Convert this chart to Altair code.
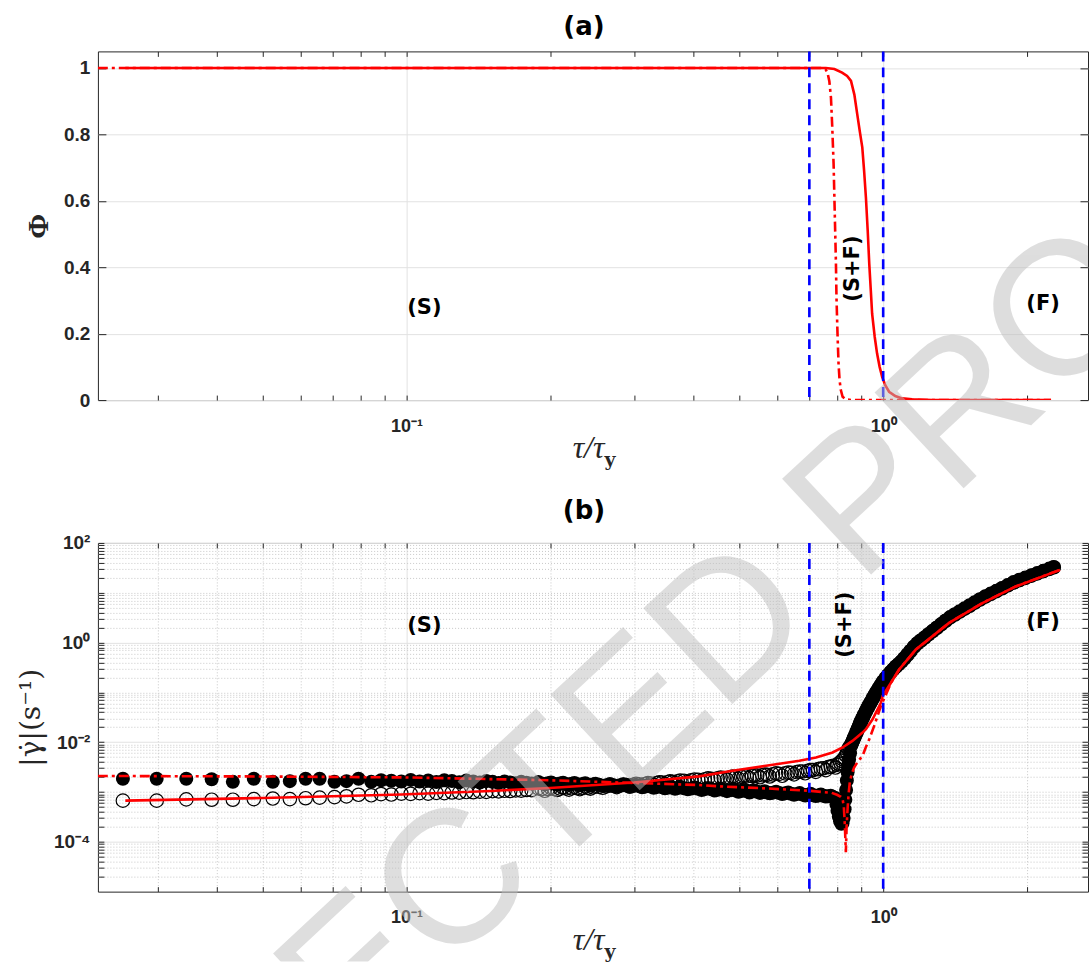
import altair as alt
import pandas as pd

# ---------------- panel (a): solid fraction Phi vs tau/tau_y ----------------
phi_tau_solid = [0.0257, 0.1, 0.3, 0.6, 0.72, 0.758, 0.79, 0.82, 0.84, 0.856, 0.87, 0.882, 0.893,
                 0.904, 0.912, 0.920, 0.928, 0.935, 0.942, 0.948, 0.96, 0.971, 0.983, 0.995,
                 1.01, 1.029, 1.06, 1.096, 1.15, 1.267, 1.6, 2.0, 2.25]
phi_solid = [1, 1, 1, 1, 1, 1.0, 0.997, 0.986, 0.976, 0.961, 0.92, 0.862, 0.81,
             0.761, 0.69, 0.61, 0.51, 0.41, 0.33, 0.26, 0.19, 0.14, 0.1, 0.07,
             0.045, 0.025, 0.012, 0.005, 0.002, 0, 0, 0, 0]

phi_tau_dashdot = [0.0225, 0.1, 0.3, 0.6, 0.72, 0.746, 0.757, 0.764, 0.771, 0.777, 0.782, 0.787, 0.790,
                   0.793, 0.796, 0.798, 0.802, 0.806, 0.810, 0.815, 0.822, 0.835, 0.861, 0.95, 1.2, 2.25]
phi_dashdot = [1, 1, 1, 1, 1, 1.0, 0.996, 0.986, 0.96, 0.911, 0.82, 0.711, 0.61,
               0.51, 0.41, 0.31, 0.2, 0.11, 0.06, 0.03, 0.01, 0.002, 0, 0, 0, 0]

# ---------------- panel (b): |shear rate| vs tau/tau_y ----------------
tau_pre = [0.0254, 0.0299, 0.0345, 0.0390, 0.0432, 0.0478, 0.0524, 0.0569, 0.0614, 0.0657, 0.0706,
           0.0748, 0.0793, 0.0843, 0.0884, 0.0929, 0.0975,
           0.102, 0.1065, 0.111, 0.1155, 0.12, 0.1245, 0.129, 0.1335, 0.138, 0.1425, 0.147, 0.1515,
           0.156, 0.1605, 0.165, 0.1695, 0.174, 0.1785, 0.183,
           0.189, 0.195, 0.201, 0.207, 0.213, 0.219, 0.225, 0.231, 0.237, 0.243, 0.249,
           0.258, 0.267, 0.276, 0.285, 0.294, 0.303, 0.312, 0.321, 0.330, 0.339, 0.348, 0.357, 0.366, 0.375,
           0.389, 0.402, 0.416, 0.429, 0.443, 0.456, 0.470, 0.483, 0.497, 0.510, 0.524, 0.537, 0.551,
           0.564, 0.578,
           0.596, 0.614, 0.632, 0.650, 0.668, 0.686, 0.704, 0.722, 0.740, 0.758, 0.776, 0.794]

rate_filled_pre = [1.85e-3, 1.85e-3, 1.85e-3, 1.80e-3, 1.60e-3, 1.85e-3, 1.60e-3, 1.65e-3, 1.85e-3, 1.85e-3,
                   1.60e-3, 1.65e-3, 1.85e-3, 1.60e-3, 1.72e-3, 1.68e-3, 1.62e-3,
                   1.75e-3, 1.62e-3, 1.70e-3, 1.58e-3, 1.72e-3, 1.66e-3, 1.57e-3, 1.70e-3, 1.62e-3, 1.55e-3,
                   1.66e-3, 1.60e-3, 1.52e-3, 1.63e-3, 1.56e-3, 1.50e-3, 1.60e-3, 1.54e-3, 1.48e-3,
                   1.58e-3, 1.42e-3, 1.56e-3, 1.40e-3, 1.54e-3, 1.38e-3, 1.52e-3, 1.36e-3, 1.50e-3, 1.35e-3,
                   1.47e-3,
                   1.32e-3, 1.45e-3, 1.29e-3, 1.42e-3, 1.27e-3, 1.39e-3, 1.24e-3, 1.36e-3, 1.22e-3, 1.33e-3,
                   1.19e-3, 1.30e-3, 1.16e-3, 1.27e-3,
                   1.13e-3, 1.23e-3, 1.10e-3, 1.20e-3, 1.07e-3, 1.17e-3, 1.04e-3, 1.13e-3, 1.01e-3, 1.10e-3,
                   0.98e-3, 1.07e-3, 0.96e-3, 1.04e-3, 0.94e-3,
                   1.01e-3, 0.91e-3, 0.98e-3, 0.88e-3, 0.95e-3, 0.85e-3, 0.92e-3, 0.83e-3, 0.89e-3, 0.81e-3,
                   0.84e-3, 0.76e-3]

rate_open_pre = [6.7e-4, 6.7e-4, 7.1e-4, 7.0e-4, 7.0e-4, 7.2e-4, 7.4e-4, 7.2e-4, 7.5e-4, 7.7e-4,
                 7.9e-4, 8.2e-4, 8.8e-4, 8.6e-4, 9.1e-4, 8.9e-4, 9.3e-4,
                 9.2e-4, 9.5e-4, 9.3e-4, 9.6e-4, 9.5e-4, 9.8e-4, 9.7e-4, 1.0e-3, 0.99e-3, 1.02e-3,
                 1.01e-3, 1.04e-3, 1.03e-3, 1.06e-3, 1.05e-3, 1.08e-3, 1.07e-3, 1.10e-3, 1.09e-3,
                 1.18e-3, 1.06e-3, 1.20e-3, 1.10e-3, 1.23e-3, 1.12e-3, 1.26e-3, 1.14e-3, 1.28e-3, 1.17e-3,
                 1.30e-3,
                 1.22e-3, 1.36e-3, 1.25e-3, 1.41e-3, 1.29e-3, 1.46e-3, 1.34e-3, 1.51e-3, 1.39e-3, 1.57e-3,
                 1.44e-3, 1.63e-3, 1.50e-3, 1.69e-3,
                 1.56e-3, 1.78e-3, 1.63e-3, 1.87e-3, 1.71e-3, 1.95e-3, 1.78e-3, 2.03e-3, 1.85e-3, 2.10e-3,
                 1.91e-3, 2.17e-3, 1.98e-3, 2.24e-3, 2.05e-3,
                 2.36e-3, 2.12e-3, 2.45e-3, 2.26e-3, 2.58e-3, 2.38e-3, 2.74e-3, 2.53e-3, 2.95e-3, 2.75e-3,
                 3.22e-3, 3.10e-3]

# readings taken between the ones above, where the markers crowd into a band
tau_mid = [0.192, 0.198, 0.204, 0.210, 0.216, 0.222, 0.228, 0.234, 0.240, 0.246,
           0.2535, 0.2625, 0.2715, 0.2805, 0.2895, 0.2985, 0.3075, 0.3165, 0.3255, 0.3345, 0.3435,
           0.3525, 0.3615, 0.3705,
           0.382, 0.3955, 0.409, 0.4225, 0.436, 0.4495, 0.463, 0.4765, 0.490, 0.5035, 0.517, 0.5305,
           0.544, 0.5575, 0.571,
           0.587, 0.605, 0.623, 0.641, 0.659, 0.677, 0.695, 0.713, 0.731, 0.749, 0.767, 0.785]
rate_filled_mid = [1.49e-3, 1.50e-3, 1.47e-3, 1.48e-3, 1.45e-3, 1.46e-3, 1.43e-3, 1.44e-3, 1.41e-3, 1.42e-3,
                   1.40e-3, 1.37e-3, 1.37e-3, 1.34e-3, 1.34e-3, 1.31e-3, 1.31e-3, 1.28e-3, 1.28e-3, 1.25e-3,
                   1.25e-3, 1.22e-3, 1.22e-3, 1.20e-3,
                   1.19e-3, 1.17e-3, 1.16e-3, 1.14e-3, 1.13e-3, 1.11e-3, 1.10e-3, 1.08e-3, 1.07e-3, 1.05e-3,
                   1.04e-3, 1.02e-3, 1.01e-3, 0.99e-3, 0.98e-3,
                   0.97e-3, 0.95e-3, 0.94e-3, 0.92e-3, 0.91e-3, 0.89e-3, 0.88e-3, 0.86e-3, 0.85e-3, 0.84e-3,
                   0.82e-3, 0.79e-3]
rate_open_mid = [1.14e-3, 1.15e-3, 1.16e-3, 1.17e-3, 1.18e-3, 1.19e-3, 1.20e-3, 1.21e-3, 1.22e-3, 1.24e-3,
                 1.27e-3, 1.30e-3, 1.33e-3, 1.35e-3, 1.38e-3, 1.40e-3, 1.43e-3, 1.45e-3, 1.48e-3, 1.51e-3,
                 1.54e-3, 1.57e-3, 1.60e-3, 1.63e-3,
                 1.68e-3, 1.72e-3, 1.76e-3, 1.80e-3, 1.84e-3, 1.88e-3, 1.91e-3, 1.95e-3, 1.98e-3, 2.02e-3,
                 2.06e-3, 2.10e-3, 2.14e-3, 2.17e-3, 2.21e-3,
                 2.25e-3, 2.31e-3, 2.37e-3, 2.43e-3, 2.50e-3, 2.58e-3, 2.66e-3, 2.76e-3, 2.87e-3, 3.00e-3,
                 3.15e-3, 3.35e-3]

tau_filled_tr = [0.798, 0.802, 0.807, 0.812, 0.817, 0.822, 0.826, 0.830, 0.833, 0.836, 0.839, 0.842,
                 0.845, 0.848, 0.852]
rate_filled_tr = [5.6e-4, 4.2e-4, 3.2e-4, 2.6e-4, 2.3e-4, 2.4e-4, 3.0e-4, 4.5e-4, 7.0e-4, 1.1e-3, 1.7e-3,
                  2.5e-3, 3.4e-3, 4.5e-3, 6.0e-3]

tau_open_tr = [0.800, 0.806, 0.812, 0.818, 0.824, 0.830, 0.835, 0.840, 0.845, 0.850]
rate_open_tr = [3.5e-3, 3.7e-3, 3.9e-3, 4.2e-3, 4.5e-3, 4.9e-3, 5.4e-3, 6.2e-3, 7.2e-3, 8.0e-3]

tau_flow = [0.856, 0.860, 0.865, 0.870, 0.875, 0.880, 0.885, 0.890, 0.895, 0.900,
            0.906, 0.913, 0.920, 0.928, 0.936, 0.944, 0.952, 0.961, 0.970, 0.980,
            0.990, 1.000, 1.012, 1.024, 1.037, 1.050, 1.064, 1.078, 1.093, 1.108,
            1.124, 1.141, 1.160, 1.180, 1.200, 1.222, 1.245, 1.270, 1.296, 1.323,
            1.352, 1.382, 1.414, 1.447, 1.482, 1.518, 1.556, 1.596, 1.638, 1.682,
            1.728, 1.776, 1.826, 1.878, 1.932, 1.988, 2.046, 2.106, 2.168, 2.232, 2.280]
rate_flow = [0.0087, 0.0097, 0.011, 0.0125, 0.0142, 0.0162, 0.0185, 0.021, 0.024, 0.027,
             0.031, 0.036, 0.042, 0.049, 0.057, 0.066, 0.077, 0.09, 0.105, 0.123,
             0.143, 0.165, 0.192, 0.222, 0.255, 0.29, 0.33, 0.37, 0.42, 0.485,
             0.571, 0.678, 0.818, 0.966, 1.10, 1.26, 1.46, 1.70, 1.98, 2.32,
             2.74, 3.21, 3.66, 4.18, 4.79, 5.50, 6.34, 7.31, 8.37, 9.5,
             10.8, 12.3, 14.1, 16.1, 18.0, 19.9, 22.1, 24.5, 27.2, 30.1, 32.5]

fit_tau_solid = [0.0257, 0.05, 0.0975, 0.15, 0.2, 0.3, 0.411, 0.483, 0.568, 0.667, 0.723, 0.783, 0.822,
                 0.862, 0.905, 0.92, 0.95, 0.989, 0.997, 1.04, 1.08, 1.171, 1.375, 1.615, 1.897, 2.35]
fit_rate_solid = [6.7e-4, 7.6e-4, 8.9e-4, 1.05e-3, 1.2e-3, 1.55e-3, 2.06e-3, 2.67e-3, 3.36e-3, 4.23e-3,
                  4.94e-3, 6.22e-3, 7.83e-3, 1.06e-2, 1.56e-2, 1.82e-2, 2.88e-2, 6.2e-2, 8.44e-2, 0.16,
                  0.288, 0.724, 2.48, 6.22, 13.4, 28.8]

fit_tau_dashdot = [0.0225, 0.05, 0.1, 0.2, 0.3, 0.411, 0.453, 0.568, 0.70, 0.78, 0.80, 0.815, 0.822,
                   0.827, 0.831, 0.835, 0.838, 0.842, 0.846, 0.851, 0.859, 0.869, 0.885, 0.905, 0.92,
                   0.935, 0.957, 0.989, 1.04, 1.08, 1.171, 1.375, 1.615, 1.897, 2.35]
fit_rate_dashdot = [2.1e-3, 2.05e-3, 1.96e-3, 1.72e-3, 1.52e-3, 1.38e-3, 1.3e-3, 1.18e-3, 1.06e-3, 9.6e-4,
                    8.8e-4, 8.0e-4, 7.2e-4, 5.0e-4, 2.1e-4, 6.2e-5, 2.0e-4, 4.6e-4, 9.0e-4, 1.56e-3,
                    2.3e-3, 3.1e-3, 4.1e-3, 5.3e-3, 8.0e-3, 1.15e-2, 2.1e-2, 5.3e-2, 0.16, 0.288, 0.724,
                    2.48, 6.22, 13.4, 28.8]

# regime boundaries (blue dashed) and region labels
boundaries = [0.7, 1.0]
region_labels = ["(S)", "(F)"]
region_tau = [0.109, 2.165]
region_phi = [0.276, 0.288]
region_rate = [2.19, 2.57]
mixed_label = "(S+F)"
mixed_tau_a, mixed_phi = 0.865, 0.396
mixed_tau_b, mixed_rate = 0.830, 2.29

watermark_text = "UNCORRECTED PROOF"

# ---------------- styling helpers ----------------
W, H = 991, 349
GAP = 143                      # distance between the two plot areas
FOOT = 70                      # strip below panel (b)
AX = "#262626"
GRID = "#e2e2e2"
MINOR = "#c8c8c8"
RED = "#ff0000"
BLUE = "#0000ff"
TICK_FONT = "Liberation Sans"
LABEL_FONT = "DejaVu Sans"
STAMP_X, STAMP_Y = 411, 784    # stamp centre, relative to the top-left of panel (a)

XS = alt.Scale(type="log", domain=[0.02251, 2.69], nice=False)
YS_A = alt.Scale(domain=[0, 1.05], nice=False, zero=False)
YS_B = alt.Scale(type="log", domain=[1e-5, 100], nice=False)

x_minor = [0.03, 0.04, 0.05, 0.06, 0.07, 0.08, 0.09, 0.2, 0.3, 0.4, 0.5, 0.6, 0.7, 0.8, 0.9, 2.0]
x_major = [0.1, 1.0]
x_all = x_major + x_minor
x_expr = "datum.value < 0.5 ? '10⁻¹' : '10⁰'"

ya_vals = [0, 0.2, 0.4, 0.6, 0.8, 1.0]
yb_major = [1e-4, 1e-2, 1, 100]
yb_minor = [m * 10.0 ** k for k in range(-5, 2) for m in range(1, 10)
            if not (m == 1 and k in (-5, -4, -2, 0))]
yb_all = yb_major + yb_minor
yb_expr = ("datum.value > 50 ? '10²' : datum.value > 0.5 ? '10⁰' : "
           "datum.value > 0.005 ? '10⁻²' : '10⁻⁴'")


def x_label_axis():
    return alt.Axis(orient="bottom", values=x_major, labelExpr=x_expr, ticks=False, tickSize=0,
                    domain=False, grid=True, gridColor=GRID, gridWidth=1, labelFont=TICK_FONT,
                    labelFontSize=18, labelFontWeight="bold", labelColor=AX, labelPadding=17,
                    labelFlush=False, labelOverlap=False, title=None)


def tick_axis(orient, values, size):
    return alt.Axis(orient=orient, values=values, labels=False, ticks=True, tickSize=size,
                    tickColor=AX, tickWidth=1, domain=False, grid=False, offset=-size, title=None)


def minor_grid_axis(orient, values):
    return alt.Axis(orient=orient, values=values, labels=False, ticks=False, domain=False,
                    grid=True, gridColor=MINOR, gridDash=[1, 2], gridWidth=1, title=None)


def x_title_layers():
    main = alt.Chart(pd.DataFrame({"t": ["τ/τ"]})).mark_text(
        align="right", baseline="alphabetic", font="Liberation Serif", fontStyle="italic",
        fontSize=32, color=AX).encode(x=alt.value(507), y=alt.value(H + 58), text="t:N")
    sub = alt.Chart(pd.DataFrame({"t": ["y"]})).mark_text(
        align="left", baseline="alphabetic", font="DejaVu Serif", fontWeight="bold",
        fontSize=19, color=AX).encode(x=alt.value(507), y=alt.value(H + 66), text="t:N")
    return [main, sub]


def stamp_layer(dy):
    # translucent proof stamp running diagonally across the page, clipped to its strip
    return alt.Chart(pd.DataFrame({"t": [watermark_text]})).mark_text(
        font="Liberation Sans", fontSize=190, color="#bdbdbd", opacity=0.5,
        angle=317, align="center", baseline="middle", clip=True).encode(
        x=alt.value(STAMP_X), y=alt.value(STAMP_Y - dy), text="t:N")


def stamp_strip(dy, height):
    return stamp_layer(dy).properties(width=W, height=height,
                                      view=alt.ViewBackground(stroke="transparent"))


def panel_title(text):
    return alt.TitleParams(text=text, font=LABEL_FONT, fontSize=26, fontWeight="bold", color="black",
                           anchor="middle", dx=-9, offset=10, frame="group")


# ---------------- panel (a) ----------------
a_solid = pd.DataFrame({"tau": phi_tau_solid, "phi": phi_solid})
a_dash = pd.DataFrame({"tau": phi_tau_dashdot, "phi": phi_dashdot})
bounds_df = pd.DataFrame({"tau": boundaries})
a_text = pd.DataFrame({"tau": region_tau, "phi": region_phi, "label": region_labels})
a_mixed = pd.DataFrame({"tau": [mixed_tau_a], "phi": [mixed_phi], "label": [mixed_label]})

ya_label_axis = alt.Axis(orient="left", values=ya_vals, format="~g", ticks=False, tickSize=0, domain=False,
                         grid=True, gridColor=GRID, gridWidth=1, labelFont=TICK_FONT, labelFontSize=19,
                         labelFontWeight="bold", labelColor=AX, labelPadding=8, title="Φ",
                         titleFont="Liberation Serif", titleFontSize=30, titleFontWeight="bold",
                         titleColor=AX, titleAngle=270, titleX=-50, titleY=H / 2,
                         titleBaseline="alphabetic", titleAlign="center")

a_l1 = alt.Chart(a_solid).mark_line(color=RED, strokeWidth=2.6, clip=True).encode(
    x=alt.X("tau:Q", scale=XS, axis=x_label_axis()),
    y=alt.Y("phi:Q", scale=YS_A, axis=ya_label_axis))
a_l2 = alt.Chart(a_dash).mark_line(color=RED, strokeWidth=2.6, strokeDash=[10, 4, 3, 4], clip=True).encode(
    x=alt.X("tau:Q", scale=XS, axis=tick_axis("bottom", x_all, 5)),
    y=alt.Y("phi:Q", scale=YS_A, axis=tick_axis("left", ya_vals, 8)))
a_l3 = alt.Chart(bounds_df).mark_rule(color=BLUE, strokeWidth=2.6, strokeDash=[10, 6]).encode(
    x=alt.X("tau:Q", scale=XS, axis=tick_axis("top", x_all, 5)))
a_l4 = alt.Chart(a_text).mark_text(font=LABEL_FONT, fontSize=21, fontWeight="bold", color="black").encode(
    x=alt.X("tau:Q", scale=XS, axis=None),
    y=alt.Y("phi:Q", scale=YS_A, axis=tick_axis("right", ya_vals, 8)),
    text="label:N")
a_l5 = alt.Chart(a_mixed).mark_text(font=LABEL_FONT, fontSize=21, fontWeight="bold", color="black",
                                    angle=270).encode(
    x=alt.X("tau:Q", scale=XS, axis=None),
    y=alt.Y("phi:Q", scale=YS_A, axis=None),
    text="label:N")

panel_a = alt.layer(a_l1, a_l2, a_l3, a_l4, a_l5, *x_title_layers(), stamp_layer(0)).resolve_axis(
    x="independent", y="independent").properties(width=W, height=H, title=panel_title("(a)"))

# ---------------- panel (b) ----------------
b_filled = pd.DataFrame({"tau": tau_pre + tau_mid + tau_filled_tr + tau_flow,
                         "rate": rate_filled_pre + rate_filled_mid + rate_filled_tr + rate_flow})
b_open = pd.DataFrame({"tau": tau_pre + tau_mid + tau_open_tr + tau_flow,
                       "rate": rate_open_pre + rate_open_mid + rate_open_tr + rate_flow})
b_fit1 = pd.DataFrame({"tau": fit_tau_solid, "rate": fit_rate_solid})
b_fit2 = pd.DataFrame({"tau": fit_tau_dashdot, "rate": fit_rate_dashdot})
b_text = pd.DataFrame({"tau": region_tau, "rate": region_rate, "label": region_labels})
b_mixed = pd.DataFrame({"tau": [mixed_tau_b], "rate": [mixed_rate], "label": [mixed_label]})

yb_label_axis = alt.Axis(orient="left", values=yb_major, labelExpr=yb_expr, ticks=False, tickSize=0,
                         domain=False, grid=True, gridColor=GRID, gridWidth=1, labelFont=TICK_FONT,
                         labelFontSize=19, labelFontWeight="bold", labelColor=AX, labelPadding=8,
                         title="|γ̇|(s⁻¹)", titleFont="DejaVu Serif", titleFontSize=28,
                         titleFontWeight="normal", titleColor=AX, titleAngle=270, titleX=-58,
                         titleY=H / 2, titleBaseline="alphabetic", titleAlign="center")

b_l1 = alt.Chart(b_filled).mark_circle(size=196, color="black", opacity=1).encode(
    x=alt.X("tau:Q", scale=XS, axis=x_label_axis()),
    y=alt.Y("rate:Q", scale=YS_B, axis=yb_label_axis))
b_l2 = alt.Chart(b_open).mark_point(shape="circle", filled=False, size=182, strokeWidth=1.2,
                                    color="black", opacity=1).encode(
    x=alt.X("tau:Q", scale=XS, axis=minor_grid_axis("bottom", x_minor)),
    y=alt.Y("rate:Q", scale=YS_B, axis=minor_grid_axis("left", yb_minor)))
b_l3 = alt.Chart(b_fit1).mark_line(color=RED, strokeWidth=2.6, clip=True).encode(
    x=alt.X("tau:Q", scale=XS, axis=tick_axis("bottom", x_all, 5)),
    y=alt.Y("rate:Q", scale=YS_B, axis=tick_axis("left", yb_all, 6)))
b_l4 = alt.Chart(b_fit2).mark_line(color=RED, strokeWidth=2.6, strokeDash=[10, 4, 3, 4], clip=True).encode(
    x=alt.X("tau:Q", scale=XS, axis=tick_axis("top", x_all, 5)),
    y=alt.Y("rate:Q", scale=YS_B, axis=tick_axis("right", yb_all, 6)))
b_l5 = alt.Chart(bounds_df).mark_rule(color=BLUE, strokeWidth=2.6, strokeDash=[10, 6]).encode(
    x=alt.X("tau:Q", scale=XS, axis=None))
b_l6 = alt.Chart(b_text).mark_text(font=LABEL_FONT, fontSize=21, fontWeight="bold", color="black").encode(
    x=alt.X("tau:Q", scale=XS, axis=None),
    y=alt.Y("rate:Q", scale=YS_B, axis=None),
    text="label:N")
b_l7 = alt.Chart(b_mixed).mark_text(font=LABEL_FONT, fontSize=21, fontWeight="bold", color="black",
                                    angle=270).encode(
    x=alt.X("tau:Q", scale=XS, axis=None),
    y=alt.Y("rate:Q", scale=YS_B, axis=None),
    text="label:N")

panel_b = alt.layer(b_l1, b_l2, b_l3, b_l4, b_l5, b_l6, b_l7, *x_title_layers(),
                    stamp_layer(H + GAP)).resolve_axis(
    x="independent", y="independent").properties(width=W, height=H, title=panel_title("(b)"))

chart = alt.vconcat(
    panel_a,
    stamp_strip(H, GAP),
    panel_b,
    stamp_strip(2 * H + GAP, FOOT),
    spacing=0, bounds="flush",
).properties(
    padding={"left": 17, "top": 13, "right": 2, "bottom": 3},
    background="white",
).configure_view(stroke=AX, strokeWidth=1)

chart.save("out.html", embed_options={"renderer": "svg", "actions": False})
